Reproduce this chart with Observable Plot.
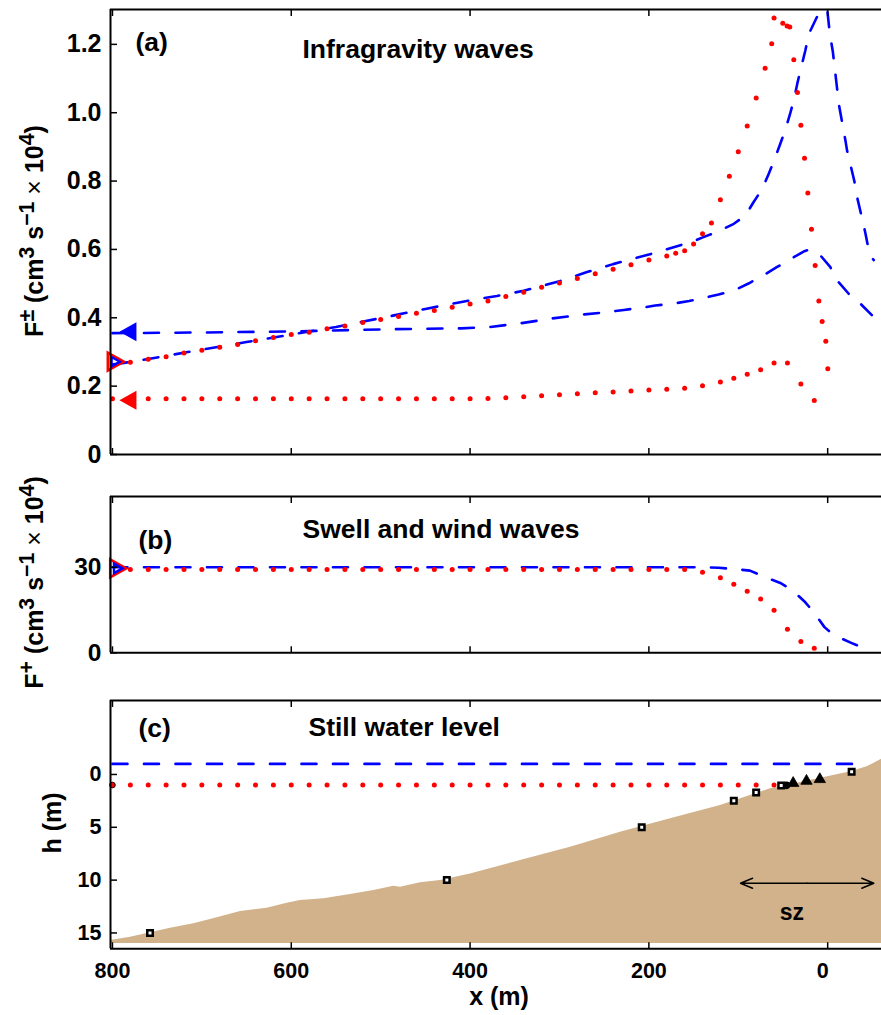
<!DOCTYPE html>
<html><head><meta charset="utf-8">
<script src="https://cdn.jsdelivr.net/npm/d3@7"></script>
<script src="https://cdn.jsdelivr.net/npm/@observablehq/plot@0.6"></script>
<style>
html,body{margin:0;padding:0;background:#fff;}
#chart{width:881px;}
#chart svg{display:block;}
</style></head><body><div id="chart"></div>
<script>
// ---------- shared axis data ----------
const xDomain = [802.2, -60.2];
const xTicks = [800, 600, 400, 200, 0];

// ---------- panel (a): infragravity fluxes ----------
const igDomain = [0, 1.302];
const igTicks = [0, 0.2, 0.4, 0.6, 0.8, 1.0, 1.2];
const igIncomingDots = [[780,0.270],[760,0.279],[740,0.286],[720,0.297],[700,0.305],[680,0.314],[660,0.322],[640,0.333],[620,0.342],[600,0.351],[580,0.358],[560,0.368],[540,0.376],[520,0.386],[500,0.395],[480,0.404],[460,0.413],[440,0.421],[420,0.431],[400,0.440],[380,0.449],[360,0.462],[340,0.475],[320,0.489],[300,0.502],[280,0.515],[260,0.529],[240,0.542],[220,0.555],[200,0.569],[180,0.581],[170,0.589],[160,0.596],[150,0.616],[140,0.646],[130,0.677],[120,0.745],[110,0.814],[100,0.886],[90,0.961],[80,1.043],[70,1.130],[62.6,1.202],[60,1.277],[50.2,1.262],[45.4,1.254],[42.4,1.251],[37.9,1.155],[33.8,1.059],[30.0,0.963],[25.9,0.867],[22.2,0.765],[18.1,0.659],[14.0,0.553],[9.9,0.449],[6.2,0.389],[2.1,0.331],[-0.1,0.251]];
const igOutgoingDots = [[800,0.163],[780,0.163],[760,0.163],[740,0.163],[720,0.163],[700,0.163],[680,0.163],[660,0.163],[640,0.163],[620,0.163],[600,0.163],[580,0.163],[560,0.163],[540,0.163],[520,0.163],[500,0.163],[480,0.163],[460,0.163],[440,0.163],[420,0.163],[400,0.163],[380,0.164],[360,0.166],[340,0.169],[320,0.172],[300,0.175],[280,0.178],[260,0.181],[240,0.183],[220,0.186],[200,0.189],[180,0.191],[160,0.194],[140,0.201],[120,0.212],[105,0.223],[90,0.235],[75,0.248],[60,0.268],[45,0.268],[30,0.206],[15,0.158]];
const igIncomingModel = [[800,0.263],[780,0.271],[750,0.284],[700,0.307],[650,0.329],[600,0.351],[550,0.373],[500,0.399],[485,0.407],[450,0.426],[400,0.451],[370,0.464],[340,0.479],[300,0.507],[270,0.533],[240,0.557],[200,0.585],[150,0.624],[139,0.636],[124,0.651],[105,0.675],[92,0.699],[83,0.738],[73,0.778],[66,0.821],[60,0.860],[53,0.909],[47,0.953],[42,0.997],[38,1.036],[34,1.085],[30,1.129],[25,1.182],[21,1.231],[12,1.280],[0.6,1.304],[-2.4,1.231],[-5.7,1.180],[-10.6,1.069],[-12.4,1.026],[-19.9,0.918],[-21.7,0.889],[-29.9,0.799],[-32.9,0.753],[-40.3,0.670],[-42.3,0.646],[-47.1,0.582],[-51.6,0.569]];
const igOutgoingModel = [[800,0.355],[700,0.357],[600,0.360],[500,0.366],[450,0.368],[410,0.369],[378,0.373],[343,0.384],[308,0.398],[272,0.410],[245,0.417],[228,0.423],[209,0.429],[193,0.436],[174,0.441],[155,0.449],[137,0.459],[122,0.468],[103,0.482],[88,0.501],[72,0.524],[57,0.548],[38,0.577],[26,0.595],[20,0.600],[8,0.582],[-3,0.548],[-10.6,0.509],[-23.6,0.470],[-36.7,0.441],[-49.8,0.407],[-57,0.398]];
const igBoundaryOut = [[782.7,0.359,"#0000ff"],[782.7,0.159,"#ff0000"]];
const igBoundaryIn = [[796.3,0.2716]];

// ---------- panel (b): swell and wind waves ----------
const swDomain = [0, 54.8];
const swTicks = [0, 30];
const swDots = [[780,29.2],[760,29.2],[740,29.2],[720,29.2],[700,29.2],[680,29.2],[660,29.2],[640,29.2],[620,29.2],[600,29.2],[580,29.2],[560,29.2],[540,29.2],[520,29.2],[500,29.2],[480,29.2],[460,29.2],[440,29.2],[420,29.2],[400,29.2],[380,29.2],[360,29.2],[340,29.2],[320,29.2],[300,29.2],[280,29.2],[260,29.2],[240,29.2],[220,29.2],[200,29.2],[180,29.2],[160,29.2],[140,28.2],[120,26.3],[105,24.0],[90,21.6],[75,18.9],[60,14.9],[45,8.3],[30,3.96],[15,1.6]];
const swModel = [[800,30.0],[600,30.0],[400,30.0],[200,30.0],[142,30.0],[122,29.8],[106,29.4],[87,28.8],[72,26.8],[53,24.5],[39,21.8],[25,17.7],[15,14.0],[3.6,9.0],[-3.1,7.2],[-9.8,5.8],[-26.3,3.5],[-42.3,1.4]];
const swBoundaryIn = [[793.6,29.6]];

// ---------- panel (c): still water level ----------
const hDomain = [16.5, -7.0];
const hTicks = [0, 5, 10, 15];
const levelModelX = [800, -42];
const levelModelH = -1.0;
const levelDotsX = [800,780,760,740,720,700,680,660,640,620,600,580,560,540,520,500,480,460,440,420,400,380,360,340,320,300,280,260,240,220,200,180,160,140,120,100,80,60];
const levelDotsH = 1.0;
const bed = [[802.2,15.72],[779.9,15.40],[757.5,14.99],[735.1,14.55],[709,14.14],[682.9,13.57],[656.8,12.97],[627,12.66],[604.6,12.18],[589.7,11.93],[563.6,11.77],[533.8,11.36],[507.7,10.98],[485.3,10.58],[477.9,10.67],[455.5,10.26],[433.1,10.04],[399.6,9.41],[343.6,8.14],[287.7,6.88],[231.8,5.46],[175.8,4.20],[119.9,2.94],[64,1.36],[39,0.92],[24,0.64],[8,0.36],[-26,-0.25],[-44,-0.72],[-52,-1.05],[-60.2,-1.45]];
const bedBase = 16.0;
const sensorsSquare = [[758,15.0],[426,10.0],[208,5.0],[105,2.49],[80,1.70],[52,1.04],[-26.8,-0.25]];
const sensorsDot = [[46,1.03]];
const sensorsTriangle = [[38.6,0.82],[23.7,0.62],[8.8,0.46]];
const szFrom = 97.5, szTo = -51.6, szDepth = 10.3;
const szLabel = [[40, 13.76, "sz"]];

// ---------- styling ----------
const FONT = "'Liberation Sans', Arial, Helvetica, sans-serif";
const BLUE = "#0000ff", RED = "#ff0000", SAND = "#d1b28b";
const DASH = "15,16.5";
const TICK = 6.5;
const TITLE = 26.5;
const fx = d => d[0], fy = d => d[1];
const svgStyle = `font-family:${FONT};font-weight:bold;font-size:25px;background:transparent;overflow:visible;color:black;`;

const triLeft = {draw(c, s) { const r = Math.sqrt(s / Math.PI); c.moveTo(-r, 0); c.lineTo(r, -1.12 * r); c.lineTo(r, 1.12 * r); c.closePath(); }};
const triRight = {draw(c, s) { const r = Math.sqrt(s / Math.PI); c.moveTo(r, 0); c.lineTo(-r, -1.12 * r); c.lineTo(-r, 1.12 * r); c.closePath(); }};
// inward tick glyphs (MATLAB style)
const tickUp = {draw(c) { c.moveTo(0, 0); c.lineTo(0, -TICK); }};
const tickDown = {draw(c) { c.moveTo(0, 0); c.lineTo(0, TICK); }};
const tickRight = {draw(c) { c.moveTo(0, 0); c.lineTo(TICK, 0); }};

function frame(yDom) {
  return [Plot.ruleY(yDom, {strokeWidth: 2}), Plot.ruleX([xDomain[0]], {strokeWidth: 2})];
}
function ticks(yTicks) {
  const o = {fill: "none", stroke: "black", strokeWidth: 1.5};
  return [
    Plot.dot(xTicks, {x: d => d, frameAnchor: "bottom", symbol: tickUp, ...o}),
    Plot.dot(xTicks, {x: d => d, frameAnchor: "top", symbol: tickDown, ...o}),
    Plot.dot(yTicks, {y: d => d, frameAnchor: "left", symbol: tickRight, ...o})
  ];
}
function yAxis(yTicks, yFmt, yFont) {
  return Plot.axisY({ticks: yTicks, anchor: "left", tickSize: 0, tickPadding: 9, tickFormat: yFmt, label: null, fontSize: yFont});
}
function inMarker(data) {
  return [
    Plot.dot(data, {x: fx, y: fy, symbol: triRight, r: 8, fill: "none", stroke: RED, strokeWidth: 2.5}),
    Plot.dot(data, {x: fx, y: fy, symbol: triRight, r: 4.2, fill: "none", stroke: BLUE, strokeWidth: 2.4})
  ];
}
function label(text, dx, dy) {
  return Plot.text([text], {text: d => d, frameAnchor: "top-left", dx, dy, textAnchor: "start", lineAnchor: "bottom", fontSize: TITLE});
}
function addYLabel(svg, x, y, parts, size) {
  const t = d3.select(svg).append("text")
    .attr("transform", `translate(${x},${y}) rotate(-90)`)
    .attr("text-anchor", "middle").attr("font-size", size)
    .attr("font-weight", "bold").attr("fill", "black").style("white-space", "pre");
  let shift = 0;
  for (const p of parts) {
    const ts = t.append("tspan").text(p.t);
    const target = p.sup ? -0.36 * size : 0;
    if (target !== shift) { ts.attr("dy", target - shift); shift = target; }
    if (p.sup) ts.attr("font-size", size * 0.85);
    if (p.normal) ts.attr("font-weight", "normal");
  }
}
const fluxParts = sign => [{t: "F"}, {t: sign, sup: true}, {t: " (cm"}, {t: "3", sup: true}, {t: " s"}, {t: "\u22121", sup: true}, {t: " "}, {t: "\u00d7", normal: true}, {t: " 10"}, {t: "4", sup: true}, {t: ")"}];

const chart = document.getElementById("chart");

// ---------- (a) ----------
const svgA = Plot.plot({
  width: 881, height: 470, marginTop: 9, marginBottom: 16, marginLeft: 110, marginRight: 0,
  style: svgStyle,
  x: {domain: xDomain, axis: null}, y: {domain: igDomain},
  marks: [
    Plot.line(igIncomingModel, {x: fx, y: fy, stroke: BLUE, strokeWidth: 2.6, strokeDasharray: DASH, clip: true}),
    Plot.line(igOutgoingModel, {x: fx, y: fy, stroke: BLUE, strokeWidth: 2.6, strokeDasharray: DASH, clip: true}),
    Plot.dot(igIncomingDots, {x: fx, y: fy, r: 2.5, fill: RED}),
    Plot.dot(igOutgoingDots, {x: fx, y: fy, r: 2.5, fill: RED}),
    Plot.dot(igBoundaryOut, {x: fx, y: fy, symbol: triLeft, r: 8.5, fill: d => d[2], stroke: null}),
    ...inMarker(igBoundaryIn),
    ...frame(igDomain),
    ...ticks(igTicks),
    yAxis(igTicks, d => d === 0 ? "0" : d.toFixed(1), 25),
    label("(a)", 25, 41),
    label("Infragravity waves", 192, 48.3)
  ]
});
addYLabel(svgA, 43, 231, fluxParts("\u00b1"), 25);
chart.appendChild(svgA);

// ---------- (b) ----------
const svgB = Plot.plot({
  width: 881, height: 210, marginTop: 26, marginBottom: 27.7, marginLeft: 110, marginRight: 0,
  style: svgStyle,
  x: {domain: xDomain, axis: null}, y: {domain: swDomain},
  marks: [
    Plot.line(swModel, {x: fx, y: fy, stroke: BLUE, strokeWidth: 2.6, strokeDasharray: DASH}),
    Plot.dot(swDots, {x: fx, y: fy, r: 2.5, fill: RED}),
    ...inMarker(swBoundaryIn),
    ...frame(swDomain),
    ...ticks(swTicks),
    yAxis(swTicks, d => String(d), 24.5),
    label("(b)", 28, 52),
    label("Swell and wind waves", 192, 41)
  ]
});
addYLabel(svgB, 43, 112.5, fluxParts("+"), 25);
chart.appendChild(svgB);

// ---------- (c) ----------
const levelDots = levelDotsX.map(x => [x, levelDotsH]);
const levelModel = levelModelX.map(x => [x, levelModelH]);
const mid = (szFrom + szTo) / 2;
const szArrows = [[mid, szFrom], [mid, szTo]];
const xLabelOpts = {anchor: "bottom", tickSize: 0, tickPadding: 13.7, tickFormat: d => String(d), label: null, fontSize: 21.5};
const svgC = Plot.plot({
  width: 881, height: 335, marginTop: 20, marginBottom: 66.7, marginLeft: 110, marginRight: 0,
  style: svgStyle,
  x: {domain: xDomain}, y: {domain: hDomain},
  marks: [
    Plot.areaY(bed, {x: fx, y1: fy, y2: bedBase, fill: SAND, curve: "linear"}),
    Plot.line(levelModel, {x: fx, y: fy, stroke: BLUE, strokeWidth: 2.6, strokeDasharray: DASH}),
    Plot.dot(levelDots, {x: fx, y: fy, r: 2.5, fill: RED}),
    Plot.dot(levelDots.slice(0, 1), {x: fx, y: fy, r: 2.8, fill: RED, stroke: "black", strokeWidth: 1}),
    Plot.dot(sensorsDot, {x: fx, y: fy, r: 3.8, fill: "black"}),
    Plot.dot(sensorsSquare, {x: fx, y: fy, symbol: "square", r: 3.1, fill: "white", stroke: "black", strokeWidth: 2.5}),
    Plot.dot(sensorsTriangle, {x: fx, y: fy, symbol: "triangle", r: 4.2, fill: "black", stroke: "black", strokeWidth: 0.8}),
    Plot.arrow(szArrows, {x1: d => d[0], x2: d => d[1], y1: szDepth, y2: szDepth, stroke: "black", strokeWidth: 1.5, headLength: 13, headAngle: 45}),
    Plot.text(szLabel, {x: fx, y: fy, text: d => d[2], lineAnchor: "bottom", fontSize: 23}),
    ...frame(hDomain),
    ...ticks(hTicks),
    yAxis(hTicks, d => String(d), 21.5),
    Plot.axisX({ticks: xTicks.filter(d => d !== 0), ...xLabelOpts}),
    Plot.axisX({ticks: xTicks.filter(d => d === 0), dx: -5, ...xLabelOpts}),
    label("(c)", 28, 36),
    label("Still water level", 198, 35)
  ]
});
addYLabel(svgC, 61, 143, [{t: "h (m)"}], 25);
d3.select(svgC).append("text").attr("x", 499).attr("y", 325).attr("text-anchor", "middle")
  .attr("font-size", 25).attr("font-weight", "bold").attr("fill", "black").style("white-space", "pre").text("x (m)");
chart.appendChild(svgC);
</script>
</body></html>
